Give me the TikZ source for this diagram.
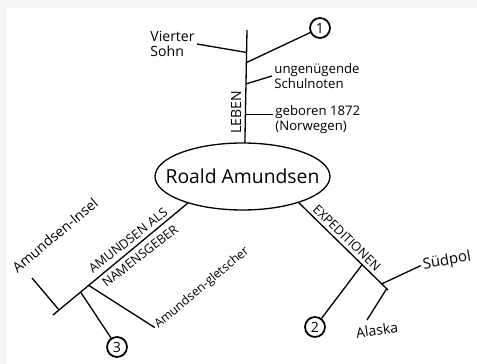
\documentclass[tikz,border=0pt]{standalone}
\usepackage{fontspec}
\setmainfont{Open Sans}
\usetikzlibrary{shapes.geometric,calc}
\definecolor{framegrey}{HTML}{F3F5F5}

\begin{document}
\begin{tikzpicture}[x=0.02cm,y=-0.02cm,line width=0.75pt,
	txt/.style={font=\fontsize{7.5}{8.5}\selectfont,inner sep=1pt},
	caps/.style={font=\fontsize{7.2}{8}\selectfont,inner sep=1pt},
	num/.style={draw,circle,line width=1pt,minimum size=0.4cm,inner sep=0pt,font=\fontsize{8}{9}\selectfont}]
	% background
	\fill[framegrey] (0,0) rectangle (477,364);
	\fill[white] (6,8) rectangle (477,364);
	\useasboundingbox (0,0) rectangle (477,364);

	\node[draw,ellipse,minimum width=3.5cm,minimum height=1.34cm] (roald) at (242.5,176.5) {};
	\node[font=\fontsize{11}{13}\selectfont] (roaldtxt) at (roald.center) {Roald Amundsen};

	% Leben
	\coordinate (lebtop) at (247,30);
	\draw (roald.86) -- coordinate[pos=0.25] (lebG) coordinate[pos=0.52] (lebU) coordinate[pos=0.71] (leb1) coordinate[pos=0.80] (lebV) (lebtop);
	\node[caps,font=\fontsize{8}{9}\selectfont,rotate=90] (leben) at (236,112) {LEBEN};
	\node[txt,font=\fontsize{8}{9}\selectfont,anchor=east,align=left] (vierter) at (197,44) {Vierter\\Sohn};
	\node[txt,anchor=west,align=left] (ungen) at (272,76) {ungenügende\\Schulnoten};
	\node[txt,anchor=west,align=left] (geboren) at (273,120) {geboren 1872\\(Norwegen)};
	\node[num] (n1) at (320,28) {1};
	\draw (lebV) -- (vierter.east);
	\draw (leb1) -- (n1);
	\draw (lebU) -- (ungen.west);
	\draw (lebG) -- (lebG -| geboren.west);

	% Namensgeber
	\coordinate (namend) at (53,315);
	\draw (roald.-154) -- coordinate[pos=0.735] (namG) coordinate[pos=0.795] (nam3) coordinate[pos=0.955] (namI) (namend);
	\node[caps,rotate=38] (als) at (128,240.5) {AMUNDSEN ALS};
	\node[caps,rotate=38] (geber) at (140,256) {NAMENSGEBER};
	\coordinate (inselend) at (32,278);
	\node[txt,font=\fontsize{8}{9}\selectfont,rotate=40] (insel) at (55,235) {Amundsen-Insel};
	\node[txt,font=\fontsize{7}{8}\selectfont,rotate=40] (gletscher) at (202,288) {Amundsen-gletscher};
	\node[num] (n3) at (117,347) {3};
	\draw (namI) -- (inselend);
	\draw (nam3) -- (n3);
	\draw (namG) -- (gletscher.west);

	% Expeditionen
	\coordinate (expend) at (388,290);
	\draw (roald.-25.5) -- coordinate[pos=0.71] (exp2) coordinate[pos=0.93] (expS) coordinate[pos=0.985] (expA) (expend);
	\node[caps,rotate=-44] (exped) at (347,238) {EXPEDITIONEN};
	\node[num] (n2) at (315,327) {2};
	\node[txt,font=\fontsize{8.5}{10}\selectfont,rotate=10] (suedpol) at (447,261) {Südpol};
	\node[txt,font=\fontsize{8}{9}\selectfont,rotate=8] (alaska) at (377,330) {Alaska};
	\coordinate (alaskaend) at (367,320);
	\draw (exp2) -- (n2);
	\draw (expS) -- (suedpol.west);
	\draw (expA) -- (alaskaend);
\end{tikzpicture}
\end{document}
